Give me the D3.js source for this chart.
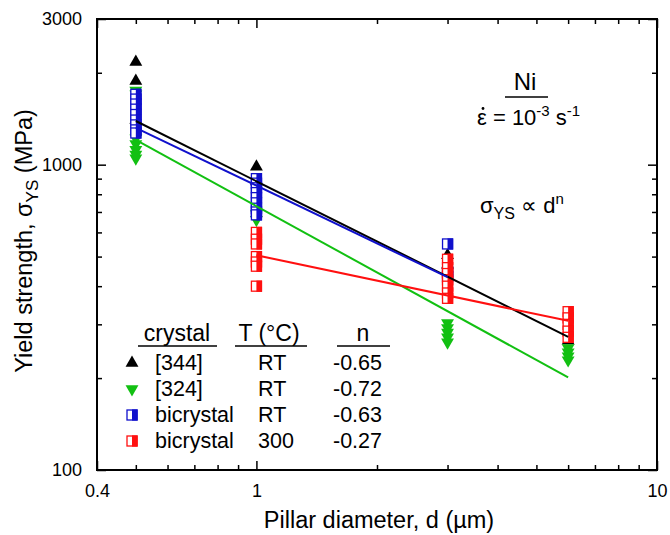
<!DOCTYPE html>
<html>
<head>
<meta charset="utf-8">
<script src="https://cdn.jsdelivr.net/npm/d3@7"></script>
<style>
  body { margin: 0; background: #fff; }
  text { font-family: "Liberation Sans", Arial, sans-serif; fill: #000; }
</style>
</head>
<body>
<script>
// pillar diameters (um) and yield strengths (MPa)
var diam = [0.5, 1, 3, 6];
var ys344 = [[2170, 1880, 1400], [985, 880], [505, 470], [265]];
var ys324 = [[1750, 1700, 1220, 1170, 1120, 1080, 1050], [690, 660], [303, 292, 282, 272, 262], [251, 243, 236, 229]];
var ysBiRT = [[1700, 1640, 1580, 1520, 1460, 1400, 1350, 1300, 1270], [900, 870, 840, 810, 780, 750, 720, 700, 685], [550, 445, 430], []];
var ysBi300 = [[], [600, 570, 550, 500, 480, 465, 400], [490, 460, 440, 420, 400, 380, 365], [330, 315, 300, 285, 272]];

// power-law fit end points
var fitD344 = [0.5, 6], fitV344 = [1390, 273];
var fitD324 = [0.5, 6], fitV324 = [1205, 201];
var fitDBiRT = [0.5, 3], fitVBiRT = [1320, 428];
var fitDBi300 = [1, 6], fitVBi300 = [505, 308];

var legCrystal = ["[344]", "[324]", "bicrystal", "bicrystal"];
var legTemp = ["RT", "RT", "RT", "300"];
var legN = ["-0.65", "-0.72", "-0.63", "-0.27"];

var xMajor = [0.4, 1, 10];
var xMinor = [0.5, 0.6, 0.7, 0.8, 0.9, 2, 3, 4, 5, 6, 7, 8, 9];
var yMajor = [100, 1000, 3000];
var yMinor = [200, 300, 400, 500, 600, 700, 800, 900, 2000];

var black = "#000", green = "#12c012", blue = "#1010cc", red = "#ff1010";

var W = 670, H = 535;
var L = 97, R = 657, T = 19, B = 470;

var svg = d3.select("body").append("svg").attr("width", W).attr("height", H);

var x = d3.scaleLog().domain([0.4, 10]).range([L, R]);
var y = d3.scaleLog().domain([100, 3000]).range([B, T]);

// ticks, all pointing inward
function ticks(axis, vals, len, pos, labels) {
  var g = svg.append("g").attr("transform", pos)
    .call(axis.tickValues(vals).tickSizeInner(-len).tickSizeOuter(0)
      .tickFormat(labels ? d3.format("") : ""));
  g.select(".domain").remove();
  g.selectAll("line").attr("stroke", "#000").attr("stroke-width", 1.5);
  return g;
}
var gb = ticks(d3.axisBottom(x).tickPadding(14), xMajor, 9, "translate(0," + B + ")", true);
gb.selectAll("text").attr("font-size", 18).attr("font-family", "Liberation Sans, Arial");
ticks(d3.axisBottom(x), xMinor, 5, "translate(0," + B + ")");
ticks(d3.axisTop(x), xMajor, 9, "translate(0," + T + ")");
ticks(d3.axisTop(x), xMinor, 5, "translate(0," + T + ")");
var gl = ticks(d3.axisLeft(y).tickPadding(15), yMajor, 9, "translate(" + L + ",0)", true);
gl.selectAll("text").attr("font-size", 18).attr("font-family", "Liberation Sans, Arial");
ticks(d3.axisLeft(y), yMinor, 5, "translate(" + L + ",0)");
ticks(d3.axisRight(y), yMajor, 9, "translate(" + R + ",0)");
ticks(d3.axisRight(y), yMinor, 5, "translate(" + R + ",0)");

svg.append("rect").attr("x", L).attr("y", T).attr("width", R - L).attr("height", B - T)
  .attr("fill", "none").attr("stroke", "#000").attr("stroke-width", 2);

var plot = svg.append("g");

function flatten(ys) {
  var pts = [];
  ys.forEach(function(vals, i) { vals.forEach(function(v) { pts.push({ d: diam[i], v: v }); }); });
  return pts;
}
var triUp = d3.symbol().type(d3.symbolTriangle).size(72);

function drawTri(g, cx, cy, color, down) {
  g.append("path").attr("d", triUp())
    .attr("transform", "translate(" + cx + "," + cy + ")" + (down ? " rotate(180)" : ""))
    .attr("fill", color);
}
function drawSq(g, cx, cy, color) {
  g.append("rect").attr("x", cx - 5).attr("y", cy - 5).attr("width", 10).attr("height", 10)
    .attr("fill", "#fff").attr("stroke", color).attr("stroke-width", 1.3);
  g.append("rect").attr("x", cx).attr("y", cy - 5.6).attr("width", 5.7).attr("height", 11.2)
    .attr("fill", color);
}

flatten(ys344).forEach(function(p) { drawTri(plot, x(p.d), y(p.v), black, false); });
flatten(ys324).forEach(function(p) { drawTri(plot, x(p.d), y(p.v), green, true); });
flatten(ysBiRT).forEach(function(p) { drawSq(plot, x(p.d), y(p.v), blue); });
flatten(ysBi300).forEach(function(p) { drawSq(plot, x(p.d), y(p.v), red); });

var line = d3.line().x(function(d) { return x(d[0]); }).y(function(d) { return y(d[1]); });
[[fitD344, fitV344, black], [fitDBiRT, fitVBiRT, blue], [fitD324, fitV324, green], [fitDBi300, fitVBi300, red]]
  .forEach(function(f) {
    plot.append("path").attr("d", line(d3.zip(f[0], f[1])))
      .attr("fill", "none").attr("stroke", f[2]).attr("stroke-width", 2);
  });

// legend table
var leg = svg.append("g").attr("font-size", 21.5);
leg.append("text").attr("x", 177).attr("y", 341).attr("text-anchor", "middle").attr("font-size", 23).text("crystal");
leg.append("text").attr("x", 269).attr("y", 341).attr("text-anchor", "middle").attr("font-size", 23).text("T (°C)");
leg.append("text").attr("x", 363).attr("y", 341).attr("text-anchor", "middle").attr("font-size", 23).text("n");
[[138, 217], [235, 307], [337, 390]].forEach(function(u) {
  leg.append("line").attr("x1", u[0]).attr("x2", u[1]).attr("y1", 346).attr("y2", 346)
    .attr("stroke", "#000").attr("stroke-width", 1.5);
});
var rowY = [370, 396, 422, 448];
var legColors = [black, green, blue, red];
legCrystal.forEach(function(c, i) {
  var cy = rowY[i] - 7;
  if (i === 0) drawTri(leg, 132, cy, black, false);
  else if (i === 1) drawTri(leg, 132, cy, green, true);
  else drawSq(leg, 132, cy, legColors[i]);
  leg.append("text").attr("x", 155).attr("y", rowY[i]).text(c);
  leg.append("text").attr("x", 258).attr("y", rowY[i]).text(legTemp[i]);
  leg.append("text").attr("x", 333).attr("y", rowY[i]).text(legN[i]);
});

// annotations
var ann = svg.append("g").attr("font-size", 22);
ann.append("text").attr("x", 525).attr("y", 90).attr("text-anchor", "middle").attr("font-size", 24).text("Ni");
ann.append("line").attr("x1", 505).attr("x2", 548).attr("y1", 97).attr("y2", 97)
  .attr("stroke", "#000").attr("stroke-width", 1.5);
// rate dot over epsilon
ann.append("circle").attr("cx", 483).attr("cy", 108.5).attr("r", 1.4).attr("fill", "#000");
var t1 = ann.append("text").attr("x", 477).attr("y", 125);
t1.append("tspan").text("\u03b5 = 10");
t1.append("tspan").attr("font-size", 15).attr("dy", -9).text("-3");
t1.append("tspan").attr("dy", 9).text(" s");
t1.append("tspan").attr("font-size", 15).attr("dy", -9).text("-1");
var t2 = ann.append("text").attr("x", 480).attr("y", 213);
t2.append("tspan").text("\u03c3");
t2.append("tspan").attr("font-size", 16).attr("dy", 6).text("YS");
t2.append("tspan").attr("dy", -6).text(" \u221d d");
t2.append("tspan").attr("font-size", 15).attr("dy", -9).text("n");

// axis titles
svg.append("text").attr("x", 379).attr("y", 528).attr("text-anchor", "middle")
  .attr("font-size", 23.5).text("Pillar diameter, d (\u00b5m)");
var yt = svg.append("text").attr("transform", "translate(32,241) rotate(-90)")
  .attr("text-anchor", "middle").attr("font-size", 23.5);
yt.append("tspan").text("Yield strength, \u03c3");
yt.append("tspan").attr("font-size", 17).attr("dy", 6).text("YS");
yt.append("tspan").attr("dy", -6).text(" (MPa)");
</script>
</body>
</html>
